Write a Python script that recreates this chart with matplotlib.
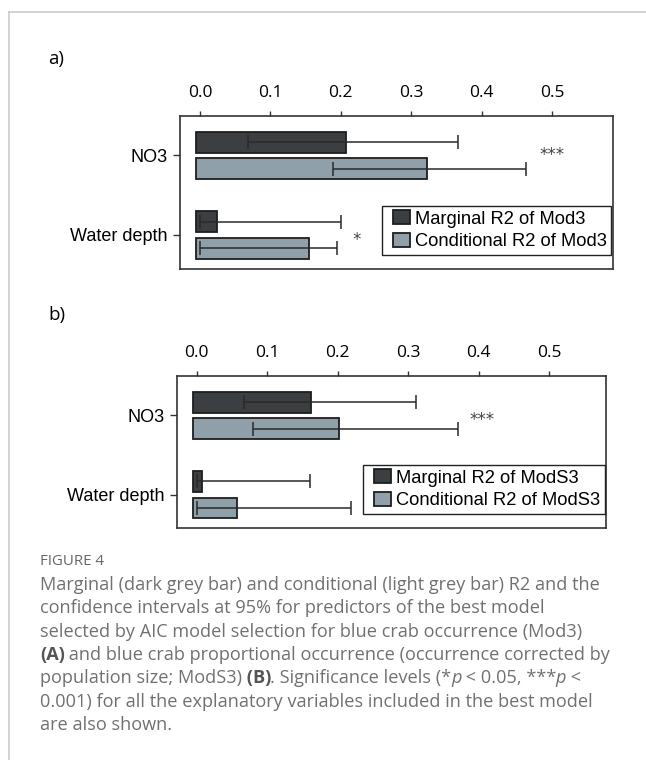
import matplotlib
matplotlib.use("Agg")
import matplotlib.pyplot as plt
import matplotlib.patches as mpatches
from matplotlib.legend_handler import HandlerPatch
from matplotlib.lines import Line2D
import numpy as np

# ---------------- data ----------------
categories = ["NO3", "Water depth"]
xticks = [0.0, 0.1, 0.2, 0.3, 0.4, 0.5]
xtick_labels = ["0.0", "0.1", "0.2", "0.3", "0.4", "0.5"]

# panel a (Mod3)
a_marginal = [0.208, 0.024]
a_marg_lo = [0.068, 0.0]
a_marg_hi = [0.366, 0.200]
a_cond = [0.322, 0.155]
a_cond_lo = [0.189, 0.0]
a_cond_hi = [0.463, 0.195]
a_legend = ["Marginal R2 of Mod3", "Conditional R2 of Mod3"]
a_sig = ["***", "*"]
a_sig_x = [0.500, 0.223]

# panel b (ModS3)
b_marginal = [0.162, 0.008]
b_marg_lo = [0.067, 0.0]
b_marg_hi = [0.311, 0.161]
b_cond = [0.202, 0.057]
b_cond_lo = [0.080, 0.0]
b_cond_hi = [0.370, 0.219]
b_legend = ["Marginal R2 of ModS3", "Conditional R2 of ModS3"]
b_sig = ["***", ""]
b_sig_x = [0.405, 0.0]

bar_base = -0.005

caption_title = "FIGURE 4"
caption_lines = [
    [("Marginal (dark grey bar) and conditional (light grey bar) R2 and the", "n")],
    [("confidence intervals at 95% for predictors of the best model", "n")],
    [("selected by AIC model selection for blue crab occurrence (Mod3)", "n")],
    [("(A)", "b"), (" and blue crab proportional occurrence (occurrence corrected by", "n")],
    [("population size; ModS3)", "n"), (" (B)", "b"), (". Significance levels (*", "n"),
     ("p", "i"), (" < 0.05, ***", "n"), ("p", "i"), (" <", "n")],
    [("0.001) for all the explanatory variables included in the best model", "n")],
    [("are also shown.", "n")],
]

# ---------------- style ----------------
W, H = 646, 760
DARK = "#3c3f42"
LIGHT = "#8fa0aa"
EDGE = "#1e1e1e"
LABEL_FONT = "Liberation Sans"
TICK_FONT = "Open Sans"

fig = plt.figure(figsize=(W / 100, H / 100), dpi=100)
fig.patch.set_facecolor("white")


def px_rect(x0, y0, x1, y1):
    return [x0 / W, 1 - y1 / H, (x1 - x0) / W, (y1 - y0) / H]


def panel(rect, xlim, ylim, marg, mlo, mhi, cond, clo, chi, leg_labels,
          sig, sig_x, sig_dy, leg_anchor):
    ax = fig.add_axes(rect)
    y = np.arange(len(categories))
    off, h = 0.167, 0.264
    marg = np.array(marg)
    cond = np.array(cond)
    ax.barh(y - off, marg - bar_base, left=bar_base, height=h, color=DARK,
            edgecolor=EDGE, linewidth=1.3, zorder=2)
    ax.barh(y + off, cond - bar_base, left=bar_base, height=h, color=LIGHT,
            edgecolor=EDGE, linewidth=1.3, zorder=2)
    ax.errorbar(marg, y - off, xerr=[marg - np.array(mlo), np.array(mhi) - marg],
                fmt="none", ecolor="#2a2a2a", elinewidth=1.1, capsize=5,
                capthick=1.1, zorder=3)
    ax.errorbar(cond, y + off, xerr=[cond - np.array(clo), np.array(chi) - cond],
                fmt="none", ecolor="#2a2a2a", elinewidth=1.1, capsize=5,
                capthick=1.1, zorder=3)
    for i, s in enumerate(sig):
        if s:
            ax.text(sig_x[i], y[i] + sig_dy[i], s, ha="center", va="center",
                    fontsize=12, color="#444444", family="DejaVu Sans")
    ax.set_xlim(*xlim)
    ax.set_ylim(*ylim)
    ax.xaxis.tick_top()
    ax.set_xticks(xticks)
    ax.set_xticklabels(xtick_labels, family=TICK_FONT, fontsize=12.5)
    ax.set_yticks(y)
    ax.set_yticklabels(categories, family=LABEL_FONT, fontsize=13)
    ax.tick_params(axis="x", direction="out", length=3.6, width=1.0, pad=7.3,
                   color="#333333")
    ax.tick_params(axis="y", direction="out", length=5.4, width=1.0, pad=3.5,
                   color="#333333")
    for sp in ax.spines.values():
        sp.set_color("#333333")
        sp.set_linewidth(1.2)
    handles = [mpatches.Patch(facecolor=DARK, edgecolor=EDGE, linewidth=1.3),
               mpatches.Patch(facecolor=LIGHT, edgecolor=EDGE, linewidth=1.3)]
    leg = ax.legend(handles=handles, labels=leg_labels, loc="lower right",
                    bbox_to_anchor=leg_anchor, frameon=True, fancybox=False,
                    edgecolor="#222222", framealpha=1,
                    prop={"family": LABEL_FONT, "size": 13.2},
                    handlelength=1.25, handleheight=0.78, handletextpad=0.3,
                    labelspacing=0.3, borderpad=0.25, borderaxespad=0,
                    handler_map={mpatches.Patch: HandlerPatch(xpad=0.35)})
    leg.get_frame().set_linewidth(1.0)
    return ax


panel(px_rect(180, 116, 613, 268.7), (-0.0284, 0.5866), (1.425, -0.494),
      a_marginal, a_marg_lo, a_marg_hi, a_cond, a_cond_lo, a_cond_hi, a_legend,
      a_sig, a_sig_x, [-0.01, 0.06], (0.9965, 0.09))

panel(px_rect(177.3, 376, 606, 528), (-0.0275, 0.5806), (1.419, -0.495),
      b_marginal, b_marg_lo, b_marg_hi, b_cond, b_cond_lo, b_cond_hi, b_legend,
      b_sig, b_sig_x, [0.06, 0.0], (0.9977, 0.092))

# panel labels
fig.text(48.5 / W, 1 - 59 / H, "a)", family="Open Sans", fontsize=13.5,
         va="center", ha="left")
fig.text(48.5 / W, 1 - 315 / H, "b)", family="Open Sans", fontsize=13.5,
         va="center", ha="left")

# frame lines
fig.add_artist(Line2D([9 / W, 1], [1 - 11.5 / H, 1 - 11.5 / H], color="#cccccc", lw=1.2))
fig.add_artist(Line2D([9 / W, 9 / W], [0, 1 - 11.5 / H], color="#cccccc", lw=1.2))

# caption
renderer = fig.canvas.get_renderer()
CAP_COLOR = "#707070"
fig.text(40 / W, 1 - 561.7 / H, caption_title, family="Open Sans", fontsize=10.8,
         color="#666666", va="center", ha="left")


def draw_segments(x_px, y_px, segments, size, color):
    x = x_px
    for txt, style in segments:
        kw = dict(fontsize=size, color=color, family="Open Sans", va="center", ha="left")
        if style == "b":
            kw["fontweight"] = "bold"
            kw["color"] = "#555555"
        if style == "i":
            kw["fontstyle"] = "italic"
        t = fig.text(x / W, 1 - y_px / H, txt, **kw)
        bb = t.get_window_extent(renderer=renderer)
        x = bb.x1 - 0.5


line_y0, line_dy = 585, 23.35
for i, segs in enumerate(caption_lines):
    draw_segments(40, line_y0 + i * line_dy, segs, 13.1, CAP_COLOR)

fig.savefig("out.png", dpi=100, facecolor="white")
